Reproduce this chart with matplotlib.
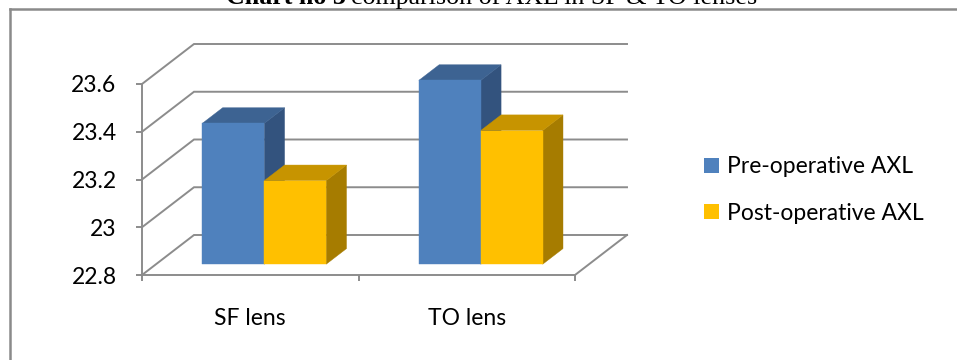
import numpy as np
import matplotlib
matplotlib.use("Agg")
import matplotlib.pyplot as plt
from matplotlib.patches import Polygon, Patch
from matplotlib.lines import Line2D

# chart data
lenses = ["SF lens", "TO lens"]
series = ["Pre-operative AXL", "Post-operative AXL"]
pre_axl = [23.39, 23.57]
post_axl = [23.15, 23.36]
y_ticks = [22.8, 23.0, 23.2, 23.4, 23.6]
y_tick_labels = ["22.8", "23", "23.2", "23.4", "23.6"]

# face colours per series: front, top, side
faces = {
    "Pre-operative AXL": ("#4f81bd", "#3d6392", "#33537e"),
    "Post-operative AXL": ("#ffc000", "#c79400", "#a67c00"),
}
grid_col = "#8c8c8c"
fs = 16.5

W, H = 957, 360
fig = plt.figure(figsize=(W / 100, H / 100), dpi=100)
plt.rcParams["font.family"] = ["Lato", "DejaVu Sans"]

# front plane: x 0..2 over px 142..575, value 22.8..23.8 over 238.75 px
x0_px, x1_px, base_px = 142, 575, 275
px_per_val = 238.75
ax = fig.add_axes([x0_px / W, (H - base_px) / H, (x1_px - x0_px) / W, px_per_val / H])
ax.set_xlim(0, 2)
ax.set_ylim(22.8, 23.8)

# oblique depth offset (full floor depth) in data units
DX = 52 / ((x1_px - x0_px) / 2)
DY = 40 / px_per_val
floor = y_ticks[0]


def proj(x, y, f):
    return x + f * DX, y + f * DY


# back wall gridlines, side wall diagonals, floor edge
for v in y_ticks:
    bx0, by = proj(0, v, 1)
    bx1, _ = proj(2, v, 1)
    ax.plot([0, bx0, bx1], [v, by, by], color=grid_col, lw=1.4, zorder=1,
            clip_on=False, solid_joinstyle="miter")
fx, fy = proj(2, floor, 1)
ax.plot([2, fx], [floor, fy], color=grid_col, lw=1.4, zorder=1, clip_on=False)

# 3D bars
bar_w = 0.286
f_front, f_back = 0.27, 0.66


def draw_bar(xl, value, colours):
    front, top, side = colours
    xr = xl + bar_w
    p = [proj(xl, floor, f_front), proj(xr, floor, f_front),
         proj(xr, value, f_front), proj(xl, value, f_front)]
    t = [proj(xl, value, f_front), proj(xr, value, f_front),
         proj(xr, value, f_back), proj(xl, value, f_back)]
    s = [proj(xr, floor, f_front), proj(xr, floor, f_back),
         proj(xr, value, f_back), proj(xr, value, f_front)]
    for pts, c in ((s, side), (t, top), (p, front)):
        ax.add_patch(Polygon(pts, closed=True, facecolor=c, edgecolor=c,
                             lw=0.3, zorder=3, clip_on=False))


for i in range(len(lenses)):
    centre = i + 0.5
    draw_bar(centre - bar_w, pre_axl[i], faces[series[0]])
    draw_bar(centre, post_axl[i], faces[series[1]])

# axes: front value axis and category axis
for side in ("top", "right"):
    ax.spines[side].set_visible(False)
for side in ("left", "bottom"):
    ax.spines[side].set_color(grid_col)
    ax.spines[side].set_linewidth(1.4)
ax.spines["left"].set_bounds(22.8, 23.6)
ax.set_yticks(y_ticks, y_tick_labels, fontsize=fs)
ax.tick_params(axis="y", length=4.3, width=1.4, color=grid_col, pad=14)
ax.set_xticks([0.5, 1.5], lenses, fontsize=fs)
ax.set_xticks([0, 1, 2], minor=True)
ax.tick_params(axis="x", which="major", length=0, pad=24)
ax.tick_params(axis="x", which="minor", length=4.3, width=1.4, color=grid_col)
ax.patch.set_visible(False)

# legend
handles = [Patch(facecolor=faces[s][0], edgecolor="none") for s in series]
fig.legend(handles, series, loc="center left", bbox_to_anchor=(704 / W, 1 - 190 / H),
           frameon=False, fontsize=fs, handlelength=0.65, handleheight=0.65,
           handletextpad=0.35, labelspacing=1.1, borderpad=0, borderaxespad=0)

# outer frame (left and top edges)
fr = dict(color="#8a8a8a", lw=1.8, transform=fig.transFigure)
fig.add_artist(Line2D([10 / W, 10 / W], [0, 1 - 9 / H], **fr))
fig.add_artist(Line2D([10 / W, 1], [1 - 9 / H, 1 - 9 / H], **fr))

# heading, mostly above the frame
ty = 1 - 4 / H
t1 = fig.text(226 / W, ty, "Chart no 3", fontsize=18.7, fontweight="bold",
              family="Liberation Serif", va="baseline", ha="left")
fig.canvas.draw()
bb = t1.get_window_extent()
fig.text(bb.x1 / W + 5 / W, ty, "comparison of AXL in SF & TO lenses", fontsize=18.7,
         family="Liberation Serif", va="baseline", ha="left")

fig.savefig("out.png", dpi=100)
